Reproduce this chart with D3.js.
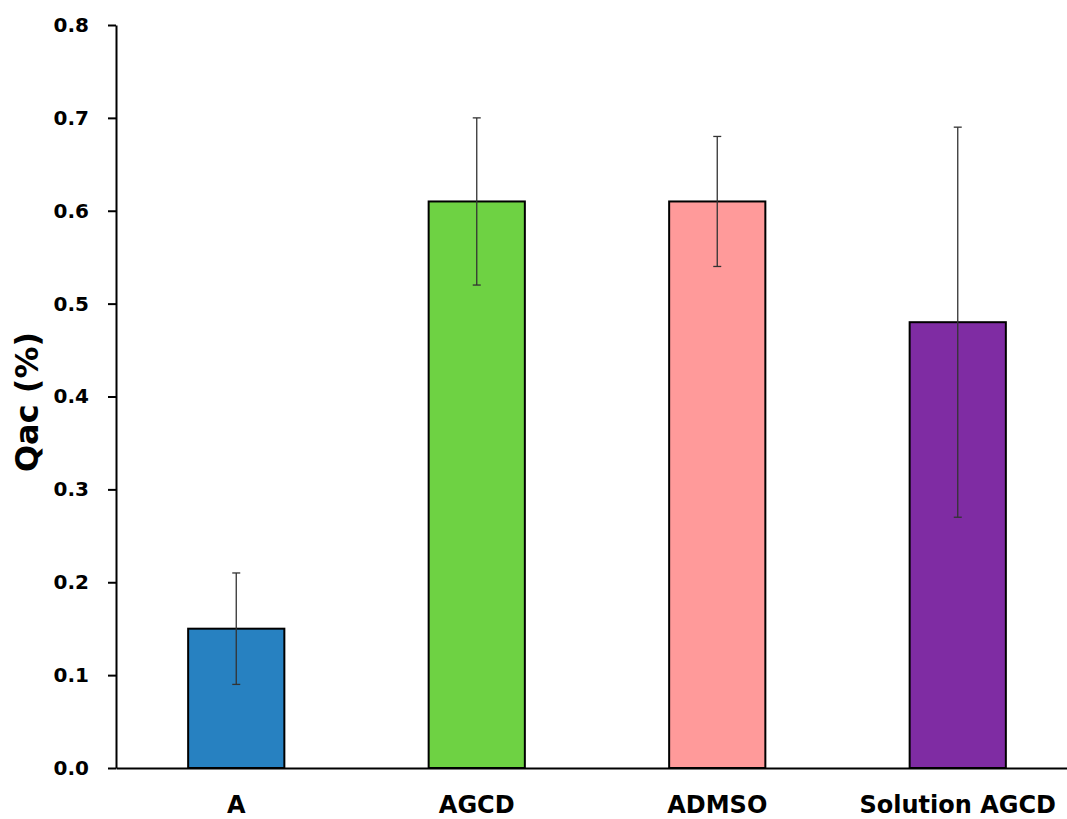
<!DOCTYPE html>
<html><head><meta charset="utf-8">
<script src="https://cdn.jsdelivr.net/npm/d3@7"></script>
<style>
body{margin:0;background:#fff;}
text{font-family:"DejaVu Sans",sans-serif;font-weight:bold;fill:#000;}
</style></head>
<body><svg id="c" width="1067" height="819"></svg>
<script>
const categories = ["A", "AGCD", "ADMSO", "Solution AGCD"];
const values = [0.15, 0.61, 0.61, 0.48];
const errors = [0.06, 0.09, 0.07, 0.21];
const colors = ["#2781c1", "#6ed243", "#ff9a9a", "#7f2ca3"];
const yTicks = [0, 0.1, 0.2, 0.3, 0.4, 0.5, 0.6, 0.7, 0.8];
const yTitle = "Qac (%)";

const svg = d3.select("#c");
const x = d3.scaleBand().domain(categories).range([116, 1078]).paddingInner(0.6).paddingOuter(0.3);
const y = d3.scaleLinear().domain([0, 0.8]).range([768, 25]);

// bars
svg.append("g").selectAll("rect").data(categories).join("rect")
  .attr("x", d => x(d)).attr("width", x.bandwidth())
  .attr("y", (d, i) => y(values[i])).attr("height", (d, i) => y(0) - y(values[i]))
  .attr("fill", (d, i) => colors[i]).attr("stroke", "#000").attr("stroke-width", 2);

// error bars
const eb = svg.append("g").attr("stroke", "#333").attr("stroke-width", 1.3);
categories.forEach((c, i) => {
  const cx = x(c) + x.bandwidth() / 2;
  const hi = y(values[i] + errors[i]), lo = y(values[i] - errors[i]);
  eb.append("line").attr("x1", cx).attr("x2", cx).attr("y1", hi).attr("y2", lo);
  eb.append("line").attr("x1", cx - 4).attr("x2", cx + 4).attr("y1", hi).attr("y2", hi);
  eb.append("line").attr("x1", cx - 4).attr("x2", cx + 4).attr("y1", lo).attr("y2", lo);
});

// y axis
const ya = svg.append("g").attr("transform", "translate(116,0)")
  .call(d3.axisLeft(y).tickValues(yTicks).tickFormat(d3.format(".1f")).tickSize(8).tickSizeOuter(0).tickPadding(19));
ya.selectAll("path,line").attr("stroke", "#000").attr("stroke-width", 2);
ya.selectAll("text").style("font-size", "20px").style("font-family", "DejaVu Sans").style("font-weight", "bold").attr("fill", "#000");

// x axis
const xa = svg.append("g").attr("transform", "translate(0,768)")
  .call(d3.axisBottom(x).tickSize(0).tickSizeOuter(0).tickPadding(28));
xa.selectAll("path").attr("stroke", "#000").attr("stroke-width", 2);
xa.selectAll("text").style("font-size", "24px").style("font-family", "DejaVu Sans").style("font-weight", "bold").attr("fill", "#000");

// y title
svg.append("text").attr("transform", "translate(38,402) rotate(-90)")
  .attr("text-anchor", "middle").style("font-size", "32px").text(yTitle);
</script></body></html>
